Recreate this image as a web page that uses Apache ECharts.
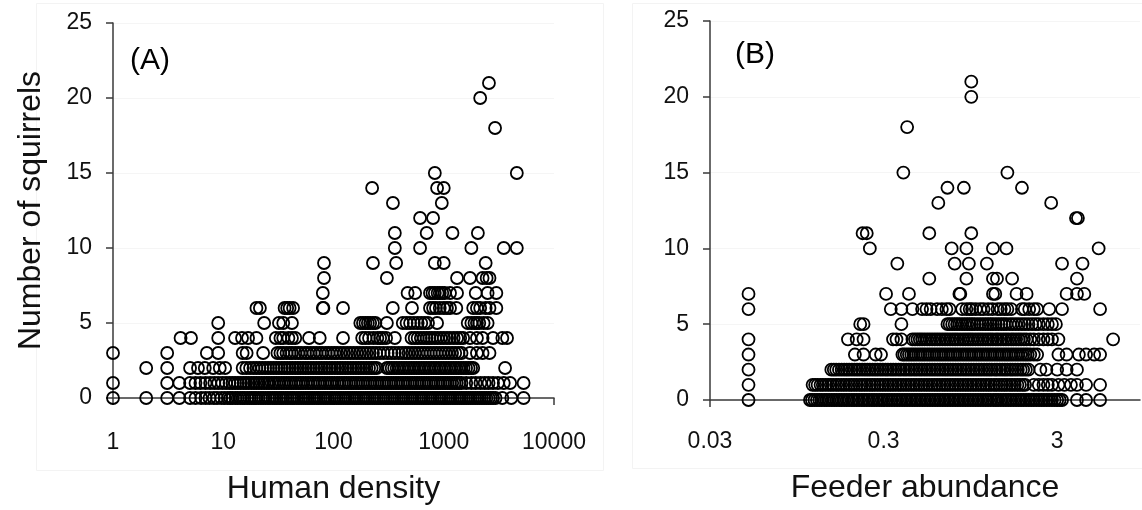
<!DOCTYPE html>
<html><head><meta charset="utf-8">
<script src="https://cdn.jsdelivr.net/npm/echarts@6/dist/echarts.min.js"></script>
<style>html,body{margin:0;padding:0;background:#fff}#c{width:1142px;height:510px}</style>
</head><body><div id="c"></div>
<script>
// Squirrel counts (y) and, for each count, the x values of the circles in that row.
const squirrelCounts = [0,1,2,3,4,5,6,7,8,9,10,11,12,13,14,15,16,17,18,19,20,21];

// Panel A: human density (log axis, 1 .. 10000)
const humanDensityByCount = [
  [1,2,3.1,4,5,5.6,6.3,6.9,7.5,8.2,8.8,9.6,10.3,11,11.6,12.1,12.9,13.5,14.3,15,15.6,16.5,17.3,18.1,19,19.8,20.9,22,23,24.2,25.5,26.6,28,29.3,30.6,32.2,33.5,35,36.9,38.5,40.5,42.4,44,46.5,48.6,51,53.5,56,58.5,61,64,67,70.5,73.5,77,81,84.5,88.5,93,97,102,107,112,117,123,129,135,141,148,155,162,170,178,187,196,205,214,225,236,247,258,270,284,298,312,327,342,358,376,393,412,432,453,474,497,520,546,572,599,628,658,690,723,757,793,831,871,913,957,1003,1050,1100,1152,1208,1266,1326,1390,1455,1525,1598,1675,1755,1840,1928,2020,2116,2218,2325,2436,2552,2675,2800,2950,3400,4100,5300],
  [1,3.1,4,5,5.6,6.2,6.9,7.6,8.3,9,9.8,10.6,11.4,12.1,12.8,13.6,14.4,15.3,16.1,17,18,19,20,21.1,22.3,23.5,24.8,26,27.5,29,30.4,32,33.8,35.5,37.4,39.3,41.4,43.5,45.8,48.2,50.5,53,56,59,62,65,68.5,72,75.5,79.5,83.5,88,92.5,97,102,108,113,119,125,131,138,145,152,160,168,176,185,195,204,215,226,237,249,262,275,289,303,318,334,351,369,387,407,427,449,471,495,520,546,573,602,632,664,697,732,769,807,848,890,935,982,1030,1082,1136,1193,1253,1315,1380,1450,1600,1780,1950,2150,2350,2550,2800,3100,3500,4000,5300],
  [2,3.1,5,5.9,6.8,8.1,9.3,10.4,15,16.2,17.5,18.8,20,21.3,22.6,24,25.5,27,28.6,30.3,32,34,36,38,40.2,42.5,45,47.5,50,53,56,59,62.5,66,70,74,78,82.5,87,92,97,103,109,115,121,128,135,143,151,160,169,178,188,199,210,222,234,246,305,320,337,355,374,394,415,437,460,485,510,537,566,596,628,661,696,733,772,813,856,902,950,1000,1053,1109,1168,1230,1296,1365,1437,1514,1594,1680,1770,1850,3600],
  [1,3.1,7.1,9,15,16.3,23,31,33,35,37.5,40,42,45,48,51,55,58,62,66,70,75,79,85,90,96,102,108,116,124,133,142,152,163,174,186,199,213,228,244,263,285,310,335,360,390,420,450,480,515,550,590,630,670,715,760,810,860,915,975,1040,1110,1190,1270,1360,1450,1730,2000,2250,2600],
  [4.1,5.1,9,12.8,14.8,16.8,20,30,33,35,39,42,45,60,75,122,182,195,210,230,250,265,280,300,360,510,545,580,620,660,700,740,780,830,880,940,1000,1070,1140,1230,1320,1410,1500,1730,2000,2250,2800,3400,3750],
  [9,23.5,32,35,42,175,185,195,205,215,228,240,305,425,460,495,535,580,625,670,720,870,1650,1780,1900,2000,2100,2300,2500],
  [20,21.5,36,38,40,43,80,81,122,345,515,750,800,850,920,1000,1070,1140,1300,1850,2000,2140,2400,2600,3000],
  [80,470,550,750,790,830,880,920,970,1020,1140,1320,1950,2500,3000],
  [82,305,1320,1730,2250,2450,2600],
  [82,228,370,830,1000,2400],
  [360,610,1780,3500,4600],
  [360,700,1200,2040],
  [610,800],
  [346,960],
  [224,870,1000],
  [830,4600],
  [],
  [],
  [2920],
  [],
  [2140],
  [2570]
];

// Panel B: feeder abundance (log scale, ticks 0.03, 0.3, 3)
const feederAbundanceByCount = [
  [0.05,0.113,0.116,0.12,0.124,0.128,0.132,0.137,0.141,0.146,0.151,0.156,0.161,0.167,0.172,0.178,0.184,0.19,0.197,0.203,0.21,0.217,0.225,0.232,0.24,0.248,0.257,0.265,0.274,0.284,0.293,0.303,0.314,0.324,0.335,0.347,0.359,0.371,0.384,0.397,0.41,0.424,0.439,0.454,0.469,0.485,0.502,0.519,0.537,0.555,0.574,0.594,0.614,0.635,0.657,0.679,0.702,0.726,0.751,0.777,0.803,0.83,0.859,0.888,0.918,0.95,0.982,1.016,1.05,1.086,1.123,1.162,1.2,1.24,1.29,1.33,1.37,1.42,1.47,1.52,1.57,1.62,1.68,1.74,1.8,1.86,1.92,1.99,2.06,2.13,2.2,2.28,2.36,2.44,2.52,2.61,2.7,2.8,2.9,3.0,3.1,3.2,3.9,4.4,5.3],
  [0.05,0.117,0.121,0.125,0.13,0.134,0.139,0.144,0.149,0.154,0.16,0.165,0.171,0.177,0.183,0.19,0.196,0.203,0.21,0.218,0.225,0.233,0.241,0.25,0.258,0.267,0.277,0.287,0.297,0.307,0.318,0.329,0.34,0.352,0.365,0.377,0.39,0.404,0.418,0.433,0.448,0.463,0.48,0.496,0.514,0.532,0.55,0.57,0.59,0.61,0.63,0.654,0.676,0.7,0.725,0.75,0.776,0.803,0.831,0.86,0.89,0.92,0.953,0.986,1.02,1.056,1.093,1.13,1.17,1.21,1.25,1.3,1.34,1.39,1.44,1.49,1.54,1.6,1.65,1.71,1.77,1.83,1.9,1.96,2.2,2.35,2.5,2.65,2.8,3.05,3.3,3.6,3.9,4.4,5.3],
  [0.05,0.15,0.155,0.16,0.166,0.172,0.178,0.184,0.19,0.197,0.204,0.211,0.218,0.226,0.234,0.242,0.25,0.259,0.268,0.277,0.287,0.297,0.308,0.318,0.33,0.341,0.353,0.366,0.378,0.392,0.405,0.42,0.434,0.45,0.465,0.482,0.498,0.516,0.534,0.553,0.572,0.592,0.613,0.634,0.657,0.68,0.703,0.728,0.753,0.78,0.807,0.835,0.865,0.895,0.926,0.959,0.992,1.027,1.063,1.1,1.14,1.18,1.22,1.26,1.31,1.35,1.4,1.45,1.5,1.55,1.61,1.66,1.72,1.78,1.85,1.91,1.98,2.05,2.4,2.6,3.0,3.4,3.9],
  [0.05,0.205,0.23,0.27,0.29,0.385,0.395,0.408,0.42,0.433,0.446,0.46,0.475,0.49,0.505,0.52,0.537,0.553,0.57,0.588,0.607,0.626,0.645,0.665,0.686,0.708,0.73,0.753,0.776,0.8,0.826,0.852,0.878,0.906,0.934,0.963,0.994,1.025,1.057,1.09,1.124,1.16,1.196,1.234,1.272,1.312,1.354,1.396,1.44,1.486,1.532,1.58,1.63,1.68,1.735,1.79,1.85,1.91,1.97,2.03,2.1,2.2,2.3,3.05,3.4,4.0,4.4,4.9,5.3],
  [0.05,0.187,0.21,0.23,0.34,0.356,0.38,0.44,0.455,0.47,0.485,0.5,0.517,0.535,0.553,0.572,0.592,0.612,0.633,0.655,0.678,0.7,0.725,0.75,0.775,0.8,0.83,0.86,0.89,0.92,0.95,0.98,1.015,1.05,1.085,1.12,1.16,1.2,1.24,1.28,1.33,1.37,1.42,1.47,1.52,1.57,1.63,1.68,1.74,1.8,1.86,1.93,2.0,2.1,2.2,2.35,2.5,2.65,2.8,3.05,6.3],
  [0.22,0.23,0.38,0.7,0.72,0.745,0.77,0.795,0.82,0.85,0.88,0.91,0.94,0.97,1.0,1.04,1.08,1.12,1.16,1.2,1.24,1.28,1.33,1.38,1.43,1.48,1.53,1.6,1.66,1.73,1.8,1.88,1.96,2.05,2.15,2.25,2.35,2.5,2.65,2.8,2.95],
  [0.05,0.33,0.38,0.44,0.5,0.53,0.56,0.61,0.65,0.69,0.72,0.85,0.9,0.94,0.97,1.02,1.08,1.13,1.2,1.27,1.36,1.42,1.49,1.55,1.63,1.88,1.95,2.07,2.2,2.3,2.7,3.2,5.3],
  [0.05,0.31,0.42,0.82,0.83,1.28,1.32,1.75,2.0,3.4,3.9,4.3],
  [0.55,0.9,1.28,1.35,1.65,3.9],
  [0.36,0.77,0.93,1.18,3.2,4.2],
  [0.25,0.74,0.9,1.28,1.53,5.2],
  [0.227,0.24,0.55,0.96],
  [3.85,3.95],
  [0.62,2.77],
  [0.7,0.87,1.88],
  [0.39,1.55],
  [],
  [],
  [0.41],
  [],
  [0.96],
  [0.96]
];

const tickLabelsA = ['1','10','100','1000','10000'];
const tickLabelsB = ['0.03','0.3','3'];
const xRangeA = [1, 10000];
const xRangeB = [0.03, 9];   // axis origin 0.03, right edge of the cropped axis
const yRange = [0, 25];
const yStep = 5;

// ---- build ----
function buildPoints(byCount, tx){
  const pts=[];
  byCount.forEach((xs,ci)=>{ xs.forEach(x=>pts.push([tx(x), squirrelCounts[ci]])); });
  return pts;
}
const dataA = buildPoints(humanDensityByCount, v=>v);
const bOrigin = xRangeB[0];
const dataB = buildPoints(feederAbundanceByCount, v=>Math.log10(v/bOrigin));

const font = '"Liberation Sans", Arial, sans-serif';
const axisCol = '#3a3a3a';
const txtCol = '#111';
function yAxisCfg(gi, name){
  return {
    gridIndex: gi, type:'value', min:yRange[0], max:yRange[1], interval:yStep,
    name: name || '', nameLocation:'middle', nameGap: 66, nameRotate: 90,
    nameTextStyle:{fontFamily:font, fontSize:32, color:txtCol},
    axisLine:{show:true, lineStyle:{color:axisCol, width:1.5}},
    axisTick:{show:true, inside:false, length:7, lineStyle:{color:axisCol, width:1.5}},
    axisLabel:{fontFamily:font, fontSize:23, color:txtCol, margin:21},
    splitLine:{show:true, lineStyle:{color:'#f5f5f5', width:1}}
  };
}
const seriesStyle = {
  type:'scatter', symbol:'circle', symbolSize:12, clip:false, large:false,
  itemStyle:{color:'rgba(255,255,255,0)', borderColor:'#000000', borderWidth:1.8, opacity:1},
  emphasis:{disabled:true}, animation:false
};

const chart = echarts.init(document.getElementById('c'), null, {renderer:'canvas'});
chart.setOption({
  backgroundColor:'#ffffff',
  animation:false,
  graphic:[
    {type:'rect', shape:{x:36.5,y:3.5,width:567,height:467}, style:{fill:'none', stroke:'#f3f3f3', lineWidth:1}, z:-10},
    {type:'rect', shape:{x:632.5,y:3.5,width:520,height:465}, style:{fill:'none', stroke:'#f3f3f3', lineWidth:1}, z:-10},
    {type:'text', x:130, y:61, style:{text:'(A)', font:'30px "Liberation Sans", Arial, sans-serif', fill:'#000', textVerticalAlign:'middle', textAlign:'left'}, z:10},
    {type:'text', x:735, y:55, style:{text:'(B)', font:'30px "Liberation Sans", Arial, sans-serif', fill:'#000', textVerticalAlign:'middle', textAlign:'left'}, z:10}
  ],
  grid:[
    {left:113, width:441, top:23, height:379, containLabel:false},
    {left:710, right:2, top:21, height:379, containLabel:false}
  ],
  xAxis:[
    {
      gridIndex:0, type:'log', logBase:10, min:xRangeA[0], max:xRangeA[1],
      name:'Human density', nameLocation:'middle', nameGap:75,
      nameTextStyle:{fontFamily:font, fontSize:32, color:txtCol},
      axisLine:{show:true, onZero:false, lineStyle:{color:axisCol, width:1.5}},
      axisTick:{show:true, inside:false, length:7, lineStyle:{color:axisCol, width:1.5}},
      axisLabel:{fontFamily:font, fontSize:23, color:txtCol, margin:33,
        formatter:v=>tickLabelsA[Math.round(Math.log10(v))] || ''},
      splitLine:{show:false}, minorTick:{show:false}
    },
    {
      gridIndex:1, type:'value', min:0, max:Math.log10(xRangeB[1]/bOrigin), interval:1,
      name:'Feeder abundance', nameLocation:'middle', nameGap:72,
      nameTextStyle:{fontFamily:font, fontSize:32, color:txtCol},
      axisLine:{show:true, onZero:false, lineStyle:{color:axisCol, width:1.5}},
      axisTick:{show:true, inside:false, length:7, lineStyle:{color:axisCol, width:1.5}},
      axisLabel:{fontFamily:font, fontSize:23, color:txtCol, margin:30, showMaxLabel:false,
        formatter:v=>(Math.abs(v-Math.round(v))<1e-6 ? (tickLabelsB[Math.round(v)] || '') : '')},
      splitLine:{show:false}
    }
  ],
  yAxis:[ yAxisCfg(0,'Number of squirrels'), yAxisCfg(1,'') ],
  series:[
    Object.assign({xAxisIndex:0, yAxisIndex:0, data:dataA}, seriesStyle),
    Object.assign({xAxisIndex:1, yAxisIndex:1, data:dataB}, seriesStyle)
  ]
});
</script>
</body></html>
